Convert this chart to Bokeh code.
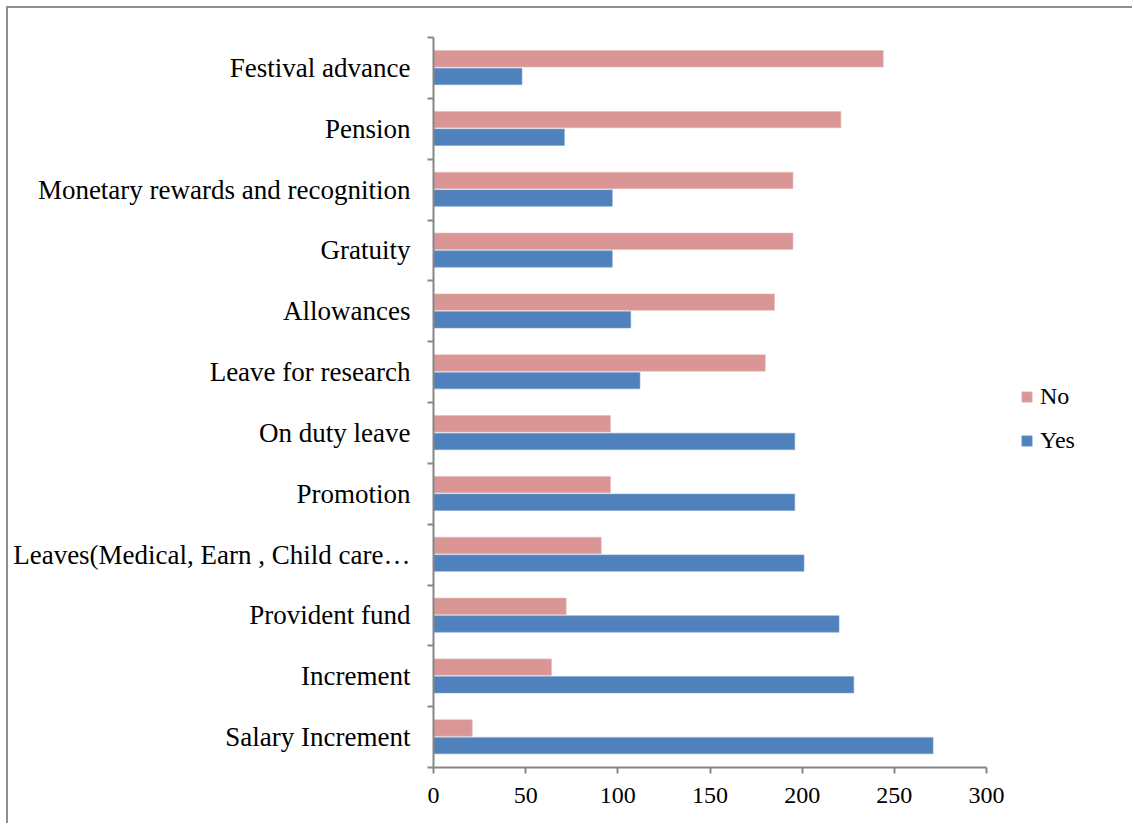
from bokeh.plotting import figure
from bokeh.models import (ColumnDataSource, FixedTicker, Legend, LegendItem,
                          LinearAxis, Range1d)
from bokeh.transform import dodge
from bokeh.embed import file_html
from bokeh.resources import INLINE

# Benefits, listed bottom to top
benefits = [
    "Salary Increment",
    "Increment",
    "Provident fund",
    "Leaves(Medical, Earn , Child care\u2026",
    "Promotion",
    "On duty leave",
    "Leave for research",
    "Allowances",
    "Gratuity",
    "Monetary rewards and recognition",
    "Pension",
    "Festival advance",
]
yes_counts = [271, 228, 220, 201, 196, 196, 112, 107, 97, 97, 71, 48]
no_counts = [21, 64, 72, 91, 96, 96, 180, 185, 195, 195, 221, 244]
x_ticks = [0, 50, 100, 150, 200, 250, 300]

NO_COLOR = "#D99694"
YES_COLOR = "#4F81BD"
GRID_COLOR = "#868686"
FONT = "Liberation Serif"

# geometry (pixels)
W, H = 1126, 817
LEFT, TOP, BOTTOM = 425, 29, 58
AXIS_PX = 553                       # width of the 0..300 value axis
frame_px = W - LEFT                 # frame runs to the right edge, legend sits there
x_max = 300 * frame_px / AXIS_PX

centers = [i + 0.5 for i in range(len(benefits))]
source = ColumnDataSource(dict(y=centers, yes=yes_counts, no=no_counts))

p = figure(
    width=W, height=H,
    x_range=Range1d(0, x_max), y_range=Range1d(0, len(benefits)),
    output_backend="svg", toolbar_location=None,
    x_axis_type=None, y_axis_type=None,
    min_border_left=LEFT, min_border_right=0,
    min_border_top=TOP, min_border_bottom=BOTTOM,
)
p.margin = (6, 0, 0, 6)
p.styles = {"border-top": "2px solid #8f8f8f", "border-left": "2px solid #8f8f8f"}
p.outline_line_color = None
p.background_fill_color = "white"
p.border_fill_color = "white"

bar_h = 0.27
r_no = p.hbar(y=dodge("y", 0.15, range=p.y_range), right="no", left=0, height=bar_h,
              source=source, fill_color=NO_COLOR, line_color="#E6B9B8", line_width=0.6)
r_yes = p.hbar(y=dodge("y", -0.14, range=p.y_range), right="yes", left=0, height=bar_h,
               source=source, fill_color=YES_COLOR, line_color="#7FA3CF", line_width=0.6)

# value axis
xaxis = LinearAxis(ticker=FixedTicker(ticks=x_ticks), bounds=(0, 300))
xaxis.axis_line_color = GRID_COLOR
xaxis.axis_line_width = 2
xaxis.major_tick_line_color = GRID_COLOR
xaxis.major_tick_line_width = 2
xaxis.major_tick_in = 0
xaxis.major_tick_out = 6
xaxis.minor_tick_line_color = None
xaxis.major_label_text_font = FONT
xaxis.major_label_text_font_size = "24px"
xaxis.major_label_text_color = "black"
xaxis.major_label_standoff = 14
p.add_layout(xaxis, "below")

# category axis: labels at bar-pair centres, tick marks on the boundaries
yaxis = LinearAxis(ticker=FixedTicker(ticks=centers,
                                      minor_ticks=list(range(len(benefits) + 1))))
yaxis.major_label_overrides = {c: name for c, name in zip(centers, benefits)}
yaxis.axis_line_color = GRID_COLOR
yaxis.axis_line_width = 2
yaxis.major_tick_line_color = None
yaxis.major_tick_in = 0
yaxis.major_tick_out = 0
yaxis.minor_tick_line_color = GRID_COLOR
yaxis.minor_tick_line_width = 2
yaxis.minor_tick_in = 0
yaxis.minor_tick_out = 6
yaxis.major_label_text_font = FONT
yaxis.major_label_text_font_size = "27px"
yaxis.major_label_text_color = "black"
yaxis.major_label_standoff = 17
p.add_layout(yaxis, "left")

p.xgrid.ticker = FixedTicker(ticks=x_ticks)
p.xgrid.grid_line_color = GRID_COLOR
p.xgrid.grid_line_width = 2
p.ygrid.grid_line_color = None

legend = Legend(
    items=[LegendItem(label="No", renderers=[r_no]),
           LegendItem(label="Yes", renderers=[r_yes])],
    location=(587, 313),
    orientation="vertical",
    glyph_width=13, glyph_height=13,
    label_text_font=FONT, label_text_font_size="24px",
    label_text_color="black",
    label_standoff=7, spacing=17,
    border_line_color=None, background_fill_alpha=0,
    padding=0, margin=0,
)
p.add_layout(legend, "center")

open("out.html", "w").write(file_html(p, INLINE))
